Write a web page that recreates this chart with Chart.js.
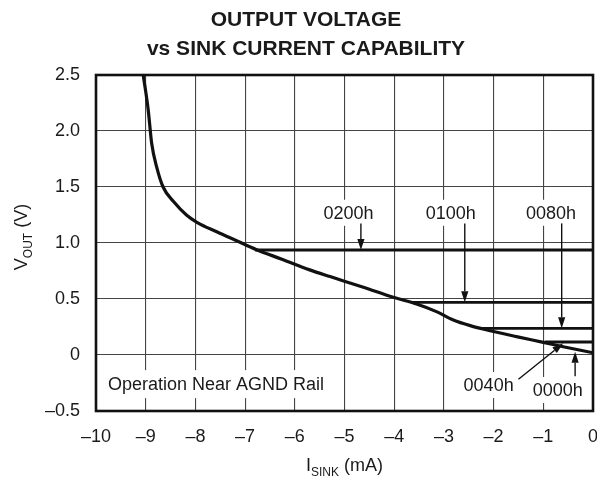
<!DOCTYPE html>
<html>
<head>
<meta charset="utf-8">
<script src="https://cdn.jsdelivr.net/npm/chart.js@4/dist/chart.umd.min.js"></script>
<style>
  html, body { margin: 0; padding: 0; background: #fff; }
  #wrap { width: 597px; height: 479px; }
</style>
</head>
<body>
<div id="wrap"><canvas id="chart"></canvas></div>
<script>
// main sink-current curve (I_SINK mA, V_OUT V)
const curveX = [-9.05, -8.95, -8.88, -8.78, -8.65, -8.44, -8.18, -7.97, -7.57, -7.17, -6.77, -6.26, -5.7, -5.29, -4.62, -4.02, -3.55, -3.15, -2.81, -2.47, -2.07, -1.54, -1.0, -0.6, 0];
const curveY = [2.5, 2.19, 1.89, 1.68, 1.5, 1.37, 1.25, 1.185, 1.10, 1.02, 0.94, 0.855, 0.76, 0.70, 0.605, 0.515, 0.455, 0.387, 0.3125, 0.262, 0.217, 0.164, 0.113, 0.074, 0.02];

// flat code levels
const codeNames = ["0200h", "0100h", "0080h", "0040h"];
const codeLevel = [0.9375, 0.47, 0.238, 0.116];
const codeStart = [-6.8, -3.65, -2.24, -0.97];
const codeEnd = 0;

const xMin = -10, xMax = 0, xStep = 1;
const yMin = -0.5, yMax = 2.5, yStep = 0.5;

const FONT = "'Liberation Sans', Arial, Helvetica, sans-serif";

// callouts: text, label pos, arrow start, arrow tip (data units)
const callouts = [
  { text: "0200h", lx: -4.92, ly: 1.27, ax: -4.67, ay: 1.175, tx: -4.67, ty: 0.9375 },
  { text: "0100h", lx: -2.86, ly: 1.27, ax: -2.58, ay: 1.175, tx: -2.58, ty: 0.47 },
  { text: "0080h", lx: -0.845, ly: 1.27, ax: -0.63, ay: 1.175, tx: -0.63, ty: 0.238 },
  { text: "0040h", lx: -2.1, ly: -0.268, ax: -1.5, ay: -0.217, tx: -0.6, ty: 0.104 },
  { text: "0000h", lx: -0.71, ly: -0.3125, ax: -0.36, ay: -0.19, tx: -0.36, ty: 0.03 }
];
const noteText = "Operation Near AGND Rail";

const fmt = (v) => {
  if (Math.abs(v) < 1e-9) return "0";
  return (v < 0 ? "\u2013" : "") + Math.abs(v).toFixed(1);
};

const labelBox = (ctx, cx, cy, text) => {
  const w = ctx.measureText(text).width;
  ctx.fillStyle = "#fff";
  ctx.fillRect(cx - w / 2 - 4, cy - 13, w + 8, 26);
};

const arrow = (ctx, x1, y1, x2, y2) => {
  const ang = Math.atan2(y2 - y1, x2 - x1);
  const len = 11, hw = 3.6;
  ctx.strokeStyle = "#111";
  ctx.lineWidth = 1.4;
  ctx.beginPath();
  ctx.moveTo(x1, y1);
  ctx.lineTo(x2 - Math.cos(ang) * len, y2 - Math.sin(ang) * len);
  ctx.stroke();
  ctx.fillStyle = "#111";
  ctx.beginPath();
  ctx.moveTo(x2, y2);
  ctx.lineTo(x2 - Math.cos(ang) * len - Math.sin(ang) * hw, y2 - Math.sin(ang) * len + Math.cos(ang) * hw);
  ctx.lineTo(x2 - Math.cos(ang) * len + Math.sin(ang) * hw, y2 - Math.sin(ang) * len - Math.cos(ang) * hw);
  ctx.closePath();
  ctx.fill();
};

const decorPlugin = {
  id: "decor",
  beforeDatasetsDraw(chart) {
    const { ctx, scales: { x, y } } = chart;
    ctx.save();
    ctx.font = "18px " + FONT;
    callouts.forEach((c) => labelBox(ctx, x.getPixelForValue(c.lx), y.getPixelForValue(c.ly), c.text));
    const nw = ctx.measureText(noteText).width;
    const nx = chart.chartArea.left + 12, ny = y.getPixelForValue(-0.26);
    ctx.fillStyle = "#fff";
    ctx.fillRect(nx - 6, ny - 14, nw + 12, 28);
    ctx.restore();
  },
  afterDatasetsDraw(chart) {
    const { ctx, chartArea: a, scales: { x, y } } = chart;
    ctx.save();
    ctx.font = "18px " + FONT;
    ctx.textAlign = "center";
    ctx.textBaseline = "middle";
    callouts.forEach((c) => {
      ctx.fillStyle = "#1a1a1a";
      ctx.fillText(c.text, x.getPixelForValue(c.lx), y.getPixelForValue(c.ly) + 1);
      arrow(ctx, x.getPixelForValue(c.ax), y.getPixelForValue(c.ay), x.getPixelForValue(c.tx), y.getPixelForValue(c.ty));
    });
    ctx.fillStyle = "#1a1a1a";
    ctx.textAlign = "left";
    ctx.fillText(noteText, a.left + 12, y.getPixelForValue(-0.26) + 1);

    // frame
    ctx.strokeStyle = "#111";
    ctx.lineWidth = 2.6;
    ctx.strokeRect(a.left, a.top, a.right - a.left, a.bottom - a.top);

    // title
    ctx.font = "bold 21px " + FONT;
    ctx.textAlign = "center";
    ctx.textBaseline = "alphabetic";
    ctx.fillText("OUTPUT VOLTAGE", 306, 26);
    ctx.fillText("vs SINK CURRENT CAPABILITY", 306, 55);

    // x axis title with subscript
    const xParts = [["I", 18, 0], ["SINK", 12, 5], [" (mA)", 18, 0]];
    let tw = 0;
    xParts.forEach((p) => { ctx.font = p[1] + "px " + FONT; tw += ctx.measureText(p[0]).width; });
    let px = (a.left + a.right) / 2 - tw / 2;
    ctx.textAlign = "left";
    xParts.forEach((p) => {
      ctx.font = p[1] + "px " + FONT;
      ctx.fillText(p[0], px, 471 + p[2]);
      px += ctx.measureText(p[0]).width;
    });

    // y axis title, rotated
    const yParts = [["V", 18, 0], ["OUT", 12, 5], [" (V)", 18, 0]];
    tw = 0;
    yParts.forEach((p) => { ctx.font = p[1] + "px " + FONT; tw += ctx.measureText(p[0]).width; });
    ctx.translate(27, (a.top + a.bottom) / 2 - 6);
    ctx.rotate(-Math.PI / 2);
    px = -tw / 2;
    yParts.forEach((p) => {
      ctx.font = p[1] + "px " + FONT;
      ctx.fillText(p[0], px, p[2]);
      px += ctx.measureText(p[0]).width;
    });
    ctx.restore();
  }
};

const lineSet = (data, width) => ({
  data,
  showLine: true,
  borderColor: "#111",
  borderWidth: width,
  pointRadius: 0,
  cubicInterpolationMode: "monotone",
  fill: false
});

const datasets = [lineSet(curveX.map((x, i) => ({ x, y: curveY[i] })), 3.2)];
codeNames.forEach((n, i) => {
  datasets.push(lineSet([{ x: codeStart[i], y: codeLevel[i] }, { x: codeEnd, y: codeLevel[i] }], 2.8));
});

new Chart(document.getElementById("chart"), {
  type: "scatter",
  data: { datasets },
  options: {
    responsive: true,
    maintainAspectRatio: false,
    animation: false,
    layout: { padding: { top: 75, right: 4, left: 0, bottom: 0 } },
    plugins: { legend: { display: false }, tooltip: { enabled: false }, title: { display: false } },
    scales: {
      x: {
        type: "linear",
        min: xMin, max: xMax,
        afterFit: (s) => { s.height = 68; s.paddingLeft = 0; s.paddingRight = 0; },
        ticks: { stepSize: xStep, padding: 15, color: "#1a1a1a", font: { family: FONT, size: 18 },
          callback: (v) => (v < 0 ? "\u2013" + Math.abs(v) : String(v)) },
        grid: { color: "#444", lineWidth: 1.1, drawTicks: false },
        border: { display: false }
      },
      y: {
        type: "linear",
        min: yMin, max: yMax,
        afterFit: (s) => { s.width = 96; s.paddingTop = 0; s.paddingBottom = 0; },
        ticks: { stepSize: yStep, padding: 16, color: "#1a1a1a", font: { family: FONT, size: 18 }, callback: fmt },
        grid: { color: "#444", lineWidth: 1.1, drawTicks: false },
        border: { display: false }
      }
    }
  },
  plugins: [decorPlugin]
});
</script>
</body>
</html>
